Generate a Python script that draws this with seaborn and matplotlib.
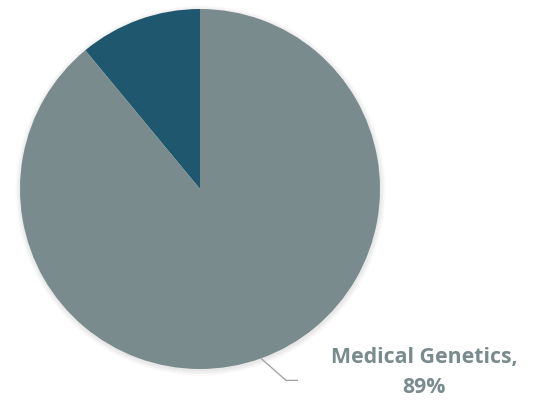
import numpy as np
import matplotlib
matplotlib.use("Agg")
import matplotlib.pyplot as plt
import seaborn as sns
from matplotlib.patches import Circle

# Share of specialties
categories = ["Other", "Medical Genetics"]
shares = [11, 89]
slice_colors = ["#1F586E", "#798B8C"]

sns.set_theme(style="white")
plt.rcParams["font.family"] = ["Open Sans", "DejaVu Sans"]

W, H = 534, 402
fig = plt.figure(figsize=(W / 100, H / 100), dpi=100)
ax = fig.add_axes([0, 0, 1, 1])

cx, cy, r = 200, H - 190, 180

# soft halo under the pie
for k in range(6):
    ax.add_patch(Circle((cx + 0.5, cy - 1.5), r + 0.5 + k * 0.9,
                        facecolor="#000000", edgecolor="none",
                        alpha=0.014, zorder=0))

wedges, _ = ax.pie(shares, colors=slice_colors, startangle=90,
                   counterclock=True, center=(cx, cy), radius=r,
                   wedgeprops=dict(linewidth=0), frame=True)
ax.set_xlim(0, W)
ax.set_ylim(0, H)
ax.set_aspect("equal")
ax.axis("off")

# label with leader line for the main slice
w = wedges[1]
mid = np.deg2rad((w.theta1 + w.theta2) / 2)
x0, y0 = cx + r * np.cos(mid), cy + r * np.sin(mid)
x1, y1 = x0 + 25, y0 - 22
x2 = x1 + 12
ax.plot([x0, x1, x2], [y0, y1, y1], color="#A6A6A6", lw=1.0,
        solid_capstyle="butt", zorder=5)
label_style = dict(ha="center", va="baseline", color="#798B8C",
                   fontsize=15.3, fontweight="bold", zorder=6)
ax.text(424, H - 363, f"{categories[1]},", **label_style)
ax.text(424, H - 393, f"{shares[1]}%", **label_style)

fig.savefig("out.png", dpi=100)
